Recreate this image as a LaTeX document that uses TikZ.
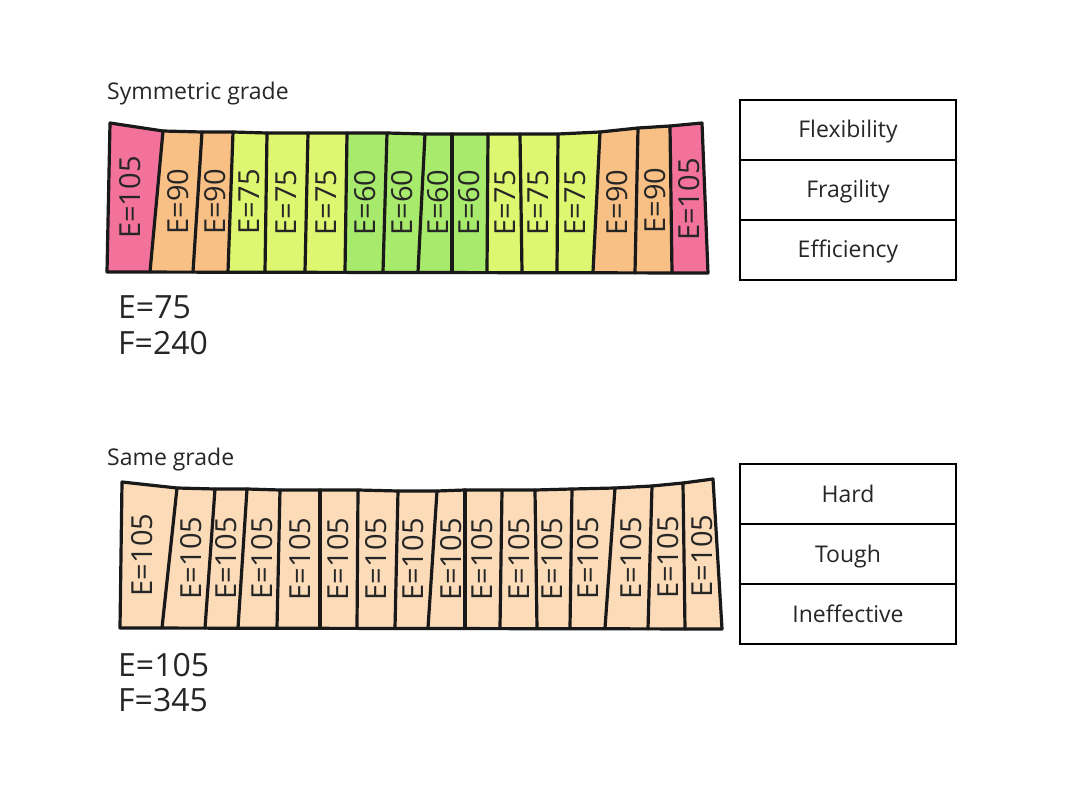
\documentclass[tikz,border=0pt]{standalone}
\usepackage{fontspec}
\setmainfont{Open Sans}
\usetikzlibrary{positioning,calc}
\definecolor{pinkFill}{RGB}{242,114,156}
\definecolor{orangeFill}{RGB}{249,192,134}
\definecolor{limeFill}{RGB}{222,246,112}
\definecolor{greenFill}{RGB}{168,234,108}
\definecolor{beigeFill}{RGB}{252,220,184}
\newcommand{\myFont}[1]{\fontsize{#1}{#1}\selectfont}
\newcommand{\myCell}[5]{%%
  %% Fill the cell between divider #2 and divider #3.
  \fill[#4] (#1T#2) -- (#1T#3) -- (#1B#3) -- (#1B#2) -- cycle;
  %% Label the cell.
  \node[labelStyle] (#1Cell#3) at ($(#1T#2)!0.5!(#1B#3)$) {#5};
}
\newcommand{\myBeam}[1]{%%
  %% Draw the outline of the beam.
  \draw[lineStyle] (#1T0) \foreach \i in {1,...,16} {-- (#1T\i)}
  -- (#1B16) -- (#1B0) -- cycle;
  %% Draw the dividers between the cells.
  \foreach \i in {1,...,15} {\draw[lineStyle] (#1T\i) -- (#1B\i);}
}

\begin{document}
\begin{tikzpicture}[x=1pt,y=-1pt,%%
  lineStyle/.style={-,line width=3.2pt,line join=round,line cap=round,black!90},%%
  labelStyle/.style={rotate=90,inner sep=0pt,font=\myFont{29},text=black!85},%%
  titleStyle/.style={anchor=base west,inner sep=0pt,font=\myFont{23},text=black!85},%%
  resultStyle/.style={anchor=base west,inner sep=0pt,font=\myFont{32},text=black!85},%%
  boxStyle/.style={draw,line width=1.2pt,outer sep=0pt,minimum width=216pt,%%
    minimum height=60pt,text height=16pt,text depth=0pt,font=\myFont{23},%%
    text=black!85}
]
\useasboundingbox (0,0) rectangle (1080,797);
%%
%% Dividers of the symmetric beam: top x/y, bottom x/y.
\foreach \i/\xt/\yt/\xb/\yb in {0/110/123/107/272,1/163/131/150/272,%%
  2/202/132/193/272,3/233/132/228/272,4/267/133/265/272,5/308/133/305/272,%%
  6/347/133/345/272,7/387/133/383/272,8/425/134/418/272,9/452/134/452/272,%%
  10/488/134/487/272,11/520/134/522/272,12/558/134/557/272,13/600/132/593/272,%%
  14/638/128/635/273,15/670/126/672/273,16/702/123/708/273}
  {\coordinate (sT\i) at (\xt,\yt); \coordinate (sB\i) at (\xb,\yb);}
%% Dividers of the same-grade beam.
\foreach \i/\xt/\yt/\xb/\yb in {0/122/482/120/628,1/177/488/162/628,%%
  2/215/489/205/628,3/247/489/238/628,4/280/490/277/628,5/320/490/320/628,%%
  6/358/490/357/628,7/398/491/395/628,8/437/491/428/628,9/465/490/465/628,%%
  10/502/490/500/628,11/535/490/537/628,12/572/489/570/628,13/615/488/605/628,%%
  14/652/486/648/629,15/683/483/685/629,16/713/479/722/629}
  {\coordinate (hT\i) at (\xt,\yt); \coordinate (hB\i) at (\xb,\yb);}
%%
%% Symmetric grade.
\node[titleStyle] (symTitle) at (107,100) {Symmetric grade};
\foreach \c/\e [count=\j] in {pinkFill/105,orangeFill/90,orangeFill/90,%%
  limeFill/75,limeFill/75,limeFill/75,greenFill/60,greenFill/60,greenFill/60,%%
  greenFill/60,limeFill/75,limeFill/75,limeFill/75,orangeFill/90,orangeFill/90,%%
  pinkFill/105}
  {\pgfmathtruncatemacro{\i}{\j-1}\myCell{s}{\i}{\j}{\c}{E=\e}}
\myBeam{s}
\node[resultStyle] (symE) at (118,318) {E=75};
\node[resultStyle] (symF) at (118,354) {F=240};
%%
%% Same grade.
\node[titleStyle] (sameTitle) at (107,465) {Same grade};
\foreach \j in {1,...,16}
  {\pgfmathtruncatemacro{\i}{\j-1}\myCell{h}{\i}{\j}{beigeFill}{E=105}}
\myBeam{h}
\node[resultStyle] (sameE) at (118,676) {E=105};
\node[resultStyle] (sameF) at (118,711) {F=345};
%%
%% Properties of each beam.
\node[boxStyle] (flex) at (848,130) {Flexibility};
\node[boxStyle,below=0pt of flex] (frag) {Fragility};
\node[boxStyle,below=0pt of frag] (effi) {Efficiency};
\node[boxStyle] (hard) at (848,494) {Hard};
\node[boxStyle,below=0pt of hard] (tough) {Tough};
\node[boxStyle,below=0pt of tough] (inef) {Ineffective};

\end{tikzpicture}
\end{document}
